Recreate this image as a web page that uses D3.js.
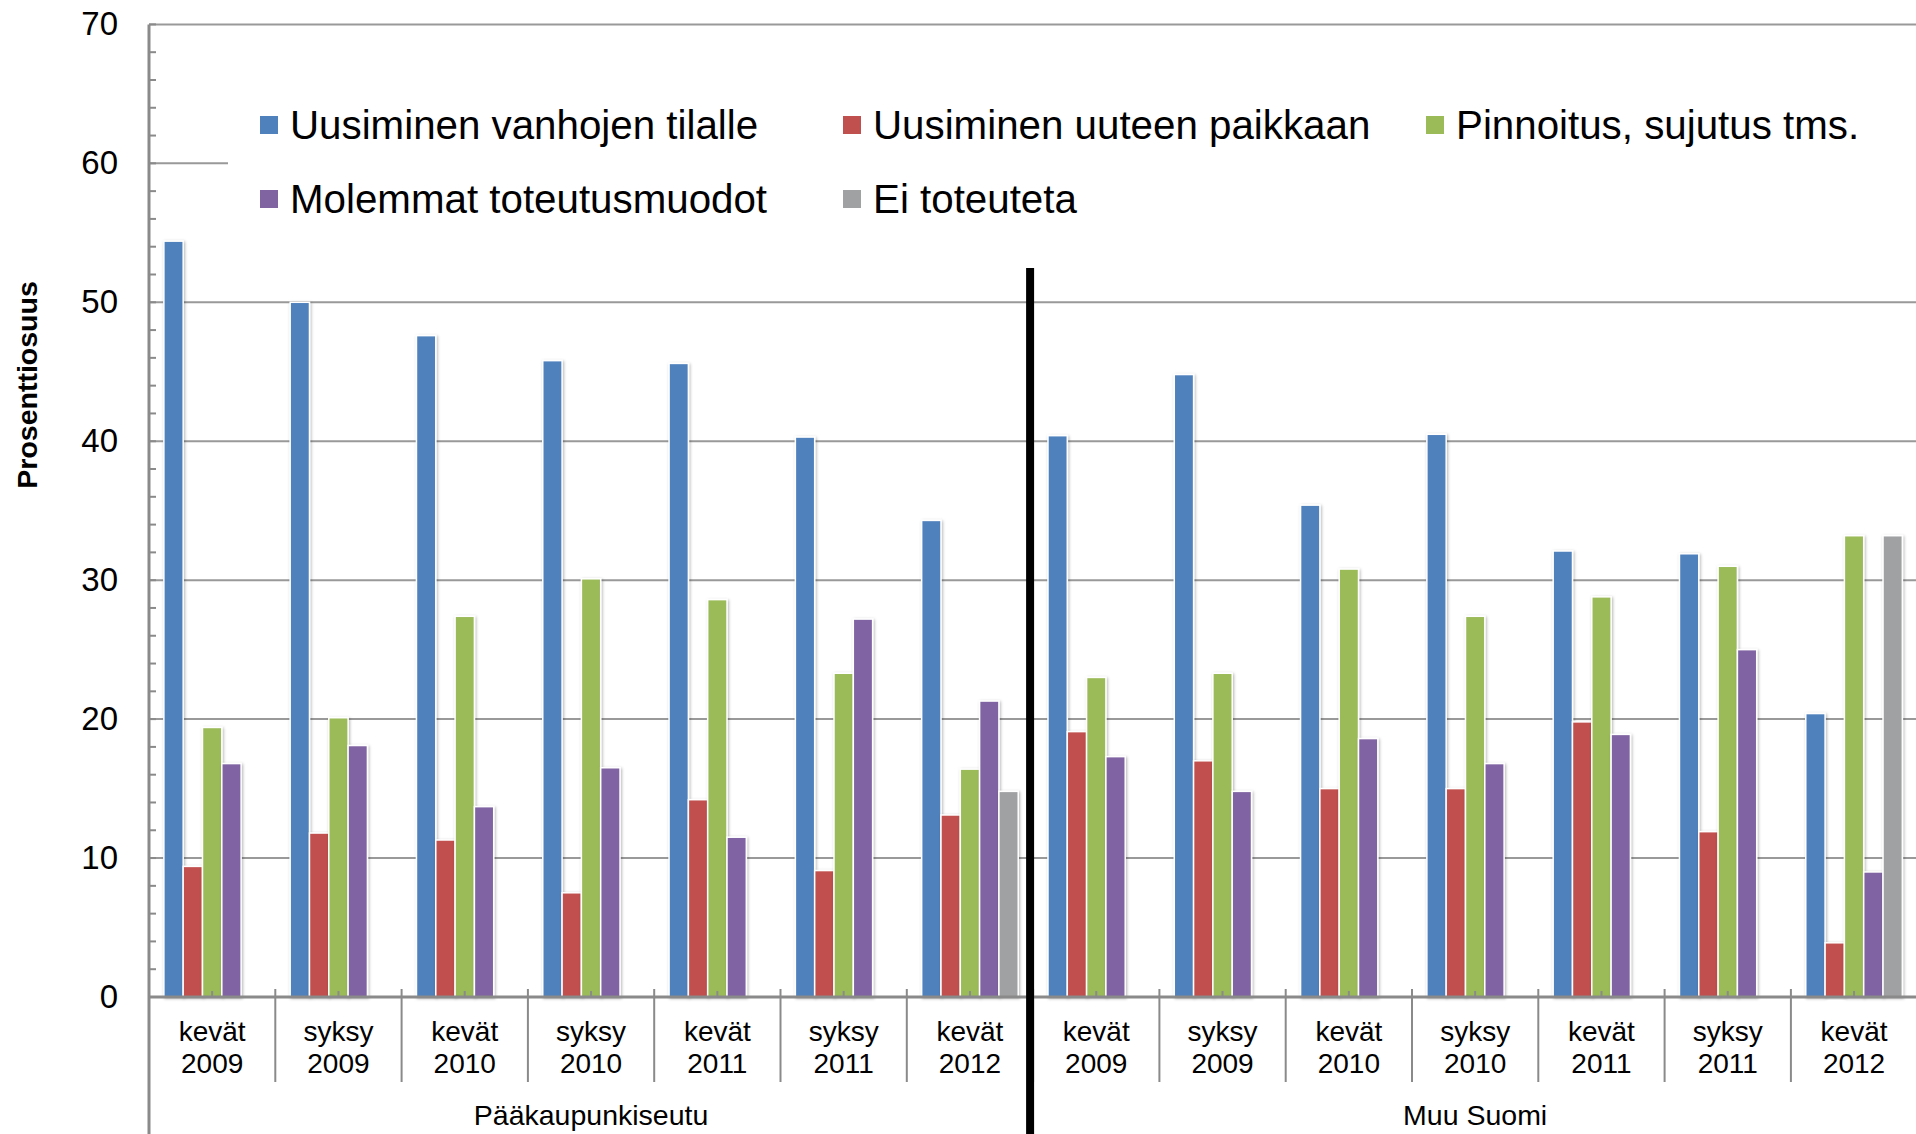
<!DOCTYPE html>
<html><head><meta charset="utf-8">
<script src="https://cdn.jsdelivr.net/npm/d3@7/dist/d3.min.js"></script>
<style>
html,body{margin:0;padding:0;background:#fff;}
svg{display:block;font-family:"Liberation Sans",Arial,sans-serif;}
</style></head>
<body>
<svg id="chart" width="1916" height="1134"></svg>
<script>
// ---- DATA ----
const groups = ["Pääkaupunkiseutu", "Muu Suomi"];
const seasons = ["kevät","syksy","kevät","syksy","kevät","syksy","kevät","kevät","syksy","kevät","syksy","kevät","syksy","kevät"];
const years   = ["2009","2009","2010","2010","2011","2011","2012","2009","2009","2010","2010","2011","2011","2012"];
const seriesNames = ["Uusiminen vanhojen tilalle","Uusiminen uuteen paikkaan","Pinnoitus, sujutus tms.","Molemmat toteutusmuodot","Ei toteuteta"];
const uusiminenVanhojen = [54.4,50.0,47.6,45.8,45.6,40.3,34.3, 40.4,44.8,35.4,40.5,32.1,31.9,20.4];
const uusiminenUuteen   = [9.4,11.8,11.3,7.5,14.2,9.1,13.1, 19.1,17.0,15.0,15.0,19.8,11.9,3.9];
const pinnoitus         = [19.4,20.1,27.4,30.1,28.6,23.3,16.4, 23.0,23.3,30.8,27.4,28.8,31.0,33.2];
const molemmat          = [16.8,18.1,13.7,16.5,11.5,27.2,21.3, 17.3,14.8,18.6,16.8,18.9,25.0,9.0];
const eiToteuteta       = [null,null,null,null,null,null,14.8, null,null,null,null,null,null,33.2];
const yTicks = [0,10,20,30,40,50,60,70];
const colors = ["#4F81BD","#C0504D","#9BBB59","#8064A2","#A0A1A3"];

const seriesValues = [uusiminenVanhojen, uusiminenUuteen, pinnoitus, molemmat, eiToteuteta];
const catIdx = d3.range(seasons.length);

// ---- LAYOUT ----
const svg = d3.select("#chart");
const pLeft = 149, pRight = 1917.2, pTop = 24.4, pBottom = 997;
const x0 = d3.scaleBand().domain(catIdx).range([pLeft, pRight]).paddingInner(0).paddingOuter(0);
const x1 = d3.scaleBand().domain(d3.range(seriesNames.length)).range([0, x0.bandwidth()]).paddingInner(0).paddingOuter(0.77);
const y = d3.scaleLinear().domain([0,70]).range([pBottom, pTop]);
const cw = x0.bandwidth();

const defs = svg.append("defs");
const f = defs.append("filter").attr("id","sh").attr("x","-30%").attr("y","-5%").attr("width","160%").attr("height","110%");
f.append("feDropShadow").attr("dx",1).attr("dy",1).attr("stdDeviation",1.8).attr("flood-color","#000").attr("flood-opacity",0.3);

// gridlines
svg.append("g").selectAll("line").data(yTicks.filter(t=>t>0)).join("line")
  .attr("x1", pLeft).attr("x2", 1916).attr("y1", d=>y(d)).attr("y2", d=>y(d))
  .attr("stroke", "#999").attr("stroke-width", 2);

// legend background box (covers gridline)
svg.append("rect").attr("x", 228).attr("y", 45).attr("width", 1700).attr("height", 190).attr("fill", "#fff");

// minor ticks on y axis
svg.append("g").selectAll("line").data(d3.range(0,71,2)).join("line")
  .attr("x1", pLeft).attr("x2", pLeft+7).attr("y1", d=>y(d)).attr("y2", d=>y(d))
  .attr("stroke", "#8a8a8a").attr("stroke-width", 2);

// bars
const barG = svg.append("g");
seriesValues.forEach((vals, s) => {
  barG.append("g").selectAll("rect")
    .data(catIdx.filter(i => vals[i] != null))
    .join("rect")
    .attr("x", i => x0(i) + x1(s))
    .attr("width", x1.bandwidth())
    .attr("y", i => y(vals[i]))
    .attr("height", i => y(0) - y(vals[i]))
    .attr("fill", colors[s])
    .attr("stroke", "#fff").attr("stroke-width", 1.5)
    .attr("filter", "url(#sh)");
});

// y axis labels
const yAxis = d3.axisLeft(y).tickValues(yTicks).tickSize(0).tickPadding(31);
const ya = svg.append("g").attr("transform", `translate(${pLeft},0)`).call(yAxis);
ya.select(".domain").remove();
ya.selectAll("text").attr("font-size", 33).attr("fill", "#000").attr("font-family", "Liberation Sans, Arial, sans-serif");

// x axis: center ticks
svg.append("g").selectAll("line").data(catIdx).join("line")
  .attr("x1", i => x0(i)+cw/2).attr("x2", i => x0(i)+cw/2)
  .attr("y1", pBottom-6).attr("y2", pBottom)
  .attr("stroke", "#8a8a8a").attr("stroke-width", 2);
// category boundaries
svg.append("g").selectAll("line").data(d3.range(1, seasons.length+1)).join("line")
  .attr("x1", i => pLeft + i*cw).attr("x2", i => pLeft + i*cw)
  .attr("y1", pBottom-8).attr("y2", 1082)
  .attr("stroke", "#8a8a8a").attr("stroke-width", 2);

// axis lines
svg.append("line").attr("x1", pLeft).attr("x2", 1916).attr("y1", pBottom).attr("y2", pBottom)
  .attr("stroke", "#8a8a8a").attr("stroke-width", 3);
svg.append("line").attr("x1", pLeft).attr("x2", pLeft).attr("y1", pTop).attr("y2", 1134)
  .attr("stroke", "#8a8a8a").attr("stroke-width", 3);

// category labels
const cl = svg.append("g").attr("font-size", 28).attr("fill", "#000").attr("text-anchor", "middle");
cl.selectAll("text.s").data(catIdx).join("text").attr("class","s")
  .attr("x", i => x0(i)+cw/2).attr("y", 1041).text(i => seasons[i]);
cl.selectAll("text.yr").data(catIdx).join("text").attr("class","yr")
  .attr("x", i => x0(i)+cw/2).attr("y", 1073).text(i => years[i]);

// group labels
const perGroup = seasons.length / groups.length;
svg.append("g").attr("font-size", 28.5).attr("text-anchor", "middle").selectAll("text").data(groups).join("text")
  .attr("x", (g,k) => pLeft + (k*perGroup + perGroup/2)*cw).attr("y", 1125).text(g => g);

// black divider
svg.append("line")
  .attr("x1", pLeft + perGroup*cw - 3).attr("x2", pLeft + perGroup*cw - 3)
  .attr("y1", 268).attr("y2", 1134).attr("stroke", "#000").attr("stroke-width", 8);

// y title
svg.append("text").attr("transform", "translate(37,385) rotate(-90)")
  .attr("text-anchor", "middle").attr("font-size", 28.5).attr("font-weight", "bold").text("Prosenttiosuus");

// legend
const legPos = [[260,139],[843,139],[1426,139],[260,213],[843,213]];
const lg = svg.append("g");
seriesNames.forEach((n, s) => {
  const [lx, ly] = legPos[s];
  lg.append("rect").attr("x", lx).attr("y", ly-23).attr("width", 18).attr("height", 18).attr("fill", colors[s]);
  lg.append("text").attr("x", lx+30).attr("y", ly).attr("font-size", 40.3).text(n);
});
</script>
</body></html>
